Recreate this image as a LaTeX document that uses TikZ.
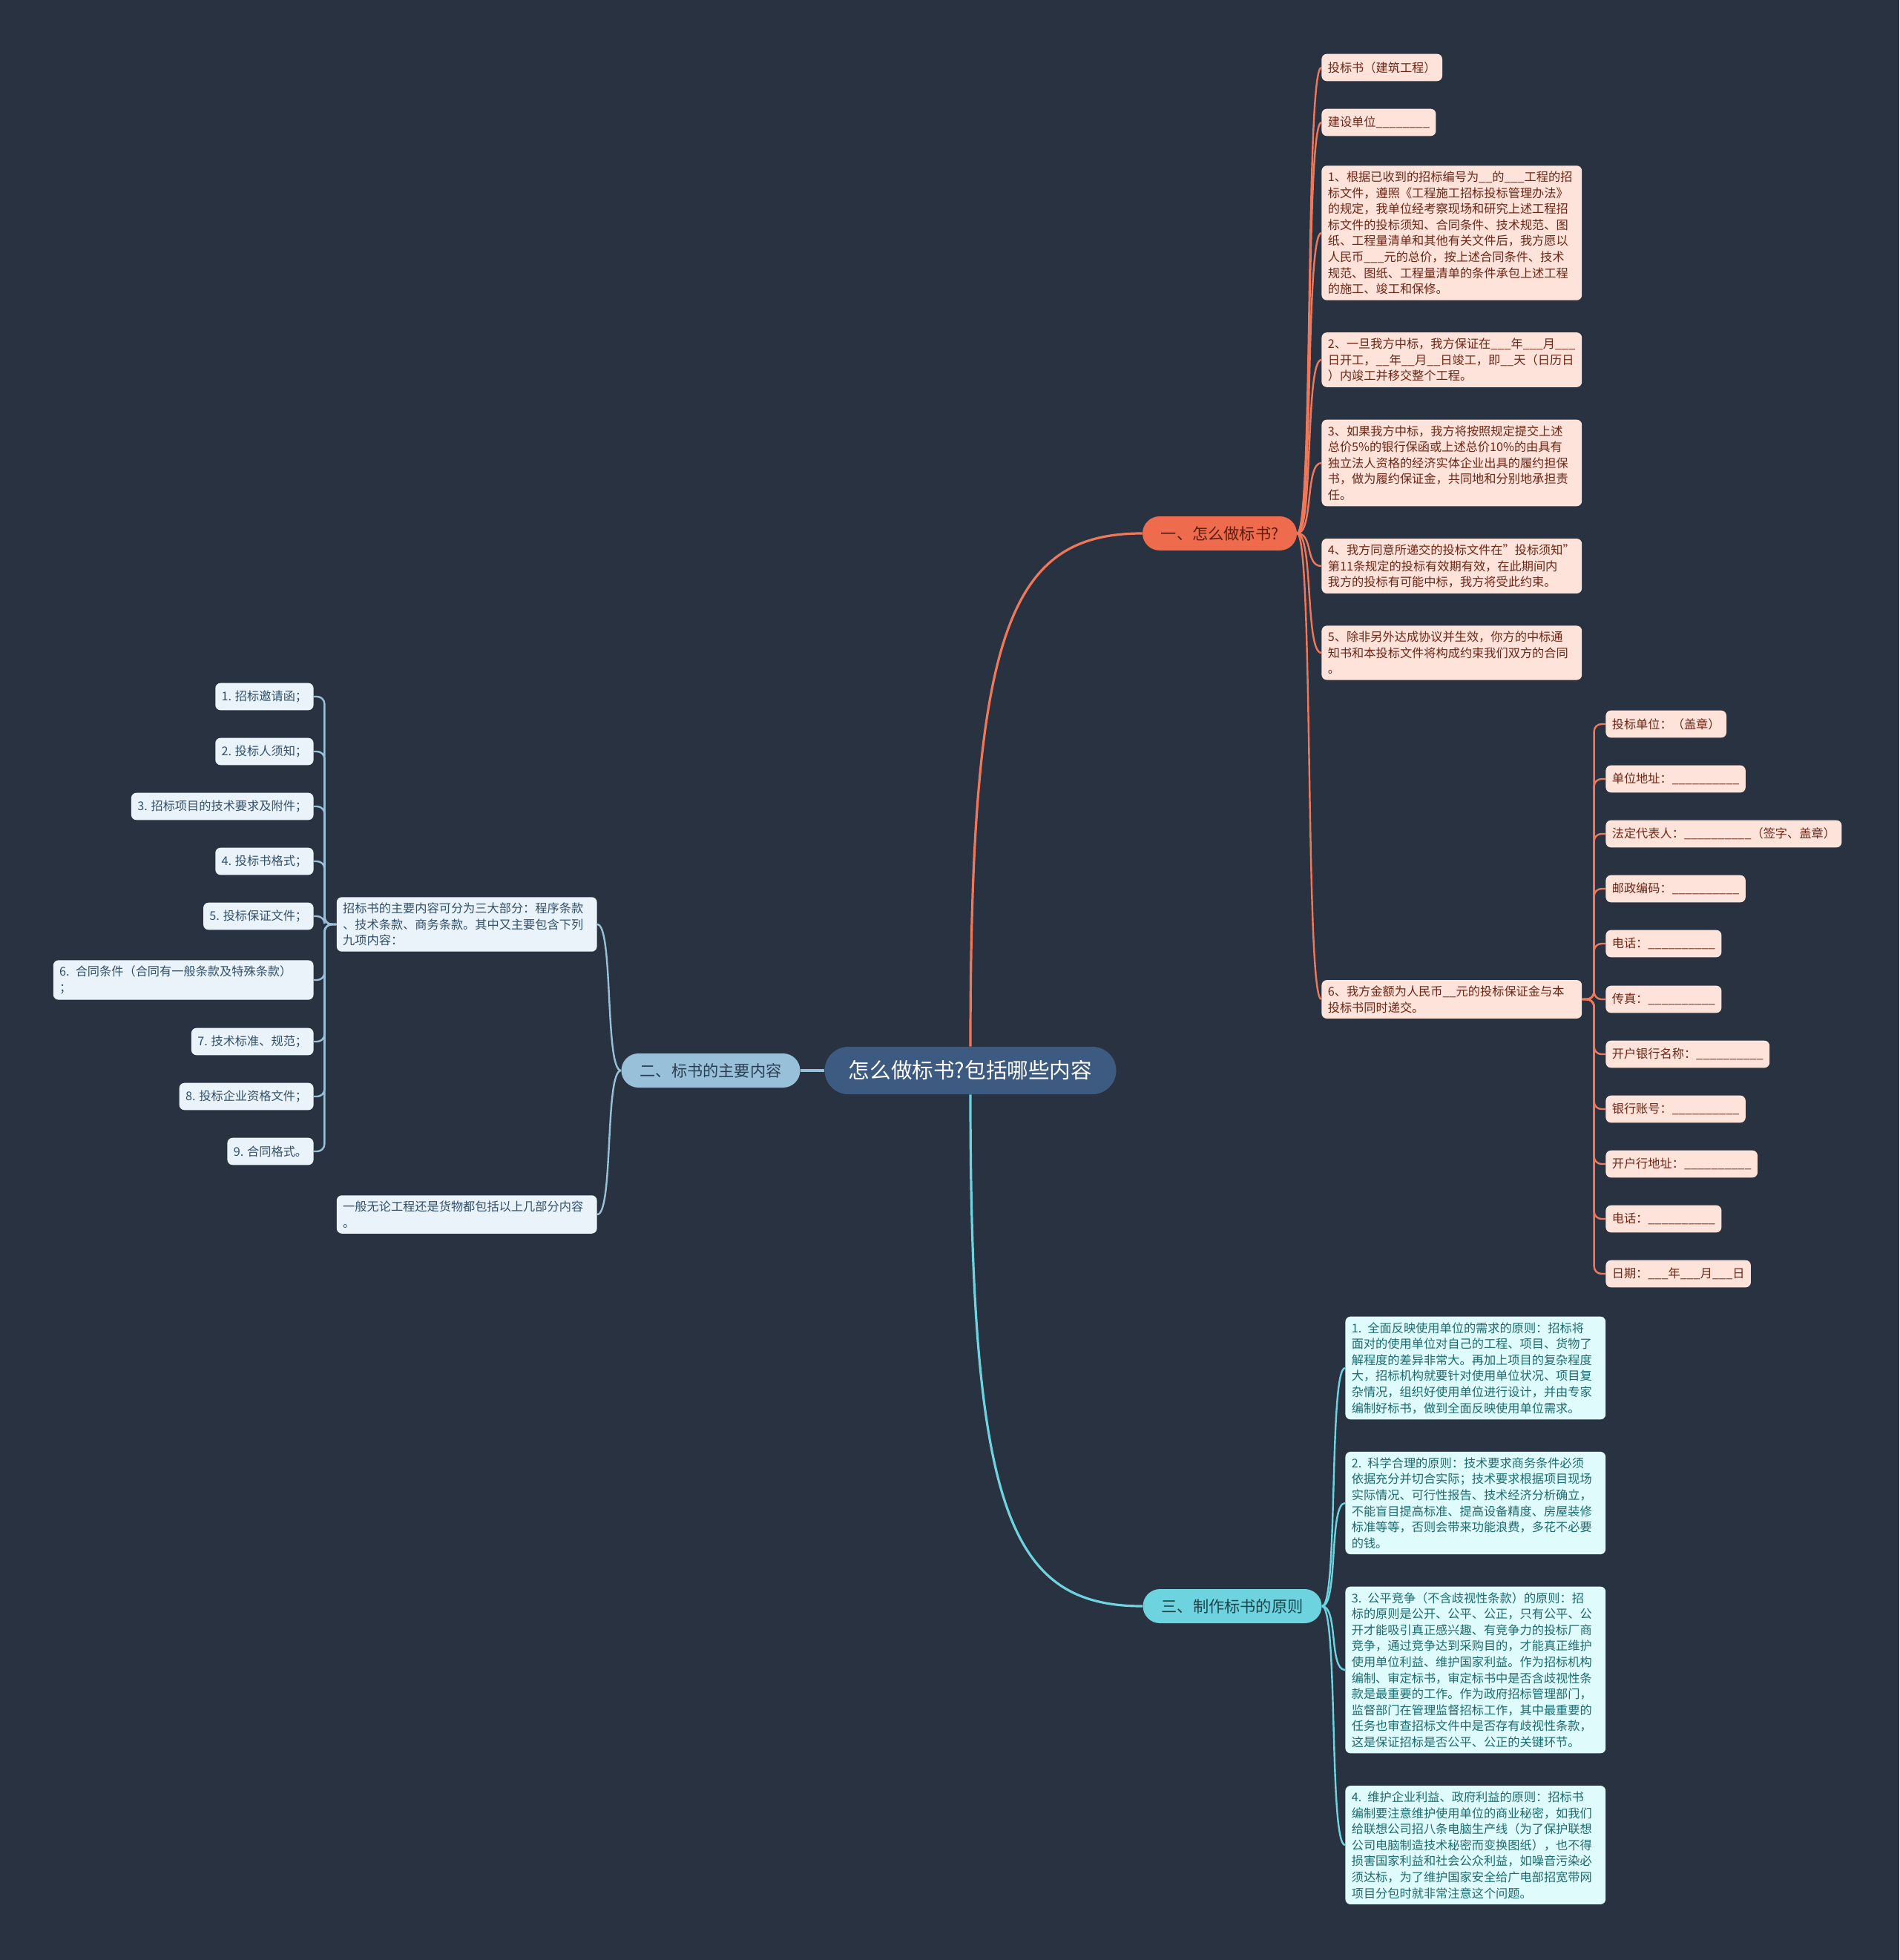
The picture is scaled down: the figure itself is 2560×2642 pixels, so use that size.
\documentclass[tikz,border=0pt]{standalone}
\usepackage{fontspec}
\setmainfont{Noto Sans CJK SC}
\usepackage{xcolor}
\usepackage{tikz}
\usetikzlibrary{backgrounds}

\definecolor{bgcol}{HTML}{293241}
\definecolor{rootcol}{HTML}{3D5A80}
\definecolor{orangecol}{HTML}{EE6C4D}
\definecolor{bluecol}{HTML}{98C1D9}
\definecolor{cyancol}{HTML}{6DD3DF}
\definecolor{orangeleaf}{HTML}{FDE3DA}
\definecolor{blueleaf}{HTML}{E9F3F9}
\definecolor{cyanleaf}{HTML}{E0FBFC}
\definecolor{orangetext}{HTML}{6E2616}
\definecolor{bluetext}{HTML}{33506B}
\definecolor{cyantext}{HTML}{1C6B70}
\definecolor{branchonetext}{HTML}{5B1D0F}
\definecolor{branchtwotext}{HTML}{2B3E52}
\definecolor{branchthreetext}{HTML}{1D4249}

\begin{document}
\begin{tikzpicture}[
  x=0.5pt, y=-0.5pt,
  root/.style={
    fill=rootcol, text=white, rounded corners=16pt,
    minimum width=196.5pt, minimum height=32pt, inner sep=0pt,
    font=\fontsize{14.3}{16}\selectfont
  },
  branch/.style={
    rounded corners=11.5pt, minimum height=23pt, inner sep=0pt,
    font=\fontsize{10.6}{12}\selectfont
  },
  leaf/.style={
    rounded corners=3.5pt, inner xsep=4.2pt, inner ysep=3.8pt,
    minimum height=18.3pt, align=left,
    font=\fontsize{8.1}{10.8}\selectfont
  },
  para/.style={text width=167pt},
  redbox/.style={leaf, fill=orangeleaf, text=orangetext},
  bluebox/.style={leaf, fill=blueleaf, text=bluetext},
  cyanbox/.style={leaf, fill=cyanleaf, text=cyantext},
  redline/.style={draw=orangecol!92!white, line width=1.2pt},
  blueline/.style={draw=bluecol, line width=1.2pt},
  cyanline/.style={draw=cyancol, line width=1.2pt},
  elbow/.style={rounded corners=5pt}
]
\useasboundingbox (0,0) rectangle (2560,2642);

% ---- Root ----
\node[root] (T0) at (1308,1443) {怎么做标书?包括哪些内容};

% ---- Branches ----
\node[branch, fill=orangecol, text=branchonetext, minimum width=104pt]
  (B1) at (1644,719) {一、怎么做标书?};
\node[branch, fill=bluecol, text=branchtwotext, minimum width=120.5pt]
  (B2) at (958,1443) {二、标书的主要内容};
\node[branch, fill=cyancol, text=branchthreetext, minimum width=120.5pt]
  (B3) at (1661,2165) {三、制作标书的原则};

% ---- Branch 1: bid letter ----
\node[redbox, anchor=west] (a1) at (1781,91) {投标书（建筑工程）};
\node[redbox, anchor=west] (a2) at (1781,165) {建设单位\_\_\_\_\_\_\_\_};
\node[redbox, para, anchor=west] (a3) at (1781,314) {%
  1、根据已收到的招标编号为\_\_的\_\_\_工程的招\\
  标文件，遵照《工程施工招标投标管理办法》\\
  的规定，我单位经考察现场和研究上述工程招\\
  标文件的投标须知、合同条件、技术规范、图\\
  纸、工程量清单和其他有关文件后，我方愿以\\
  人民币\_\_\_元的总价，按上述合同条件、技术\\
  规范、图纸、工程量清单的条件承包上述工程\\
  的施工、竣工和保修。};
\node[redbox, para, anchor=west] (a4) at (1781,485) {%
  2、一旦我方中标，我方保证在\_\_\_年\_\_\_月\_\_\_\\
  日开工，\_\_年\_\_月\_\_日竣工，即\_\_天（日历日\\
  ）内竣工并移交整个工程。};
\node[redbox, para, anchor=west] (a5) at (1781,624) {%
  3、如果我方中标，我方将按照规定提交上述\\
  总价5\%的银行保函或上述总价10\%的由具有\\
  独立法人资格的经济实体企业出具的履约担保\\
  书，做为履约保证金，共同地和分别地承担责\\
  任。};
\node[redbox, para, anchor=west] (a6) at (1781,763) {%
  4、我方同意所递交的投标文件在"投标须知"\\
  第11条规定的投标有效期有效，在此期间内\\
  我方的投标有可能中标，我方将受此约束。};
\node[redbox, para, anchor=west] (a7) at (1781,880) {%
  5、除非另外达成协议并生效，你方的中标通\\
  知书和本投标文件将构成约束我们双方的合同\\
  。};
\node[redbox, para, anchor=west] (a8) at (1781,1347) {%
  6、我方金额为人民币\_\_元的投标保证金与本\\
  投标书同时递交。};

% ---- Signature fields under item 6 ----
\node[redbox, anchor=west] (f1) at (2164,976) {投标单位：（盖章）};
\node[redbox, anchor=west] (f2) at (2164,1050) {单位地址：\_\_\_\_\_\_\_\_\_\_};
\node[redbox, anchor=west] (f3) at (2164,1124) {法定代表人：\_\_\_\_\_\_\_\_\_\_（签字、盖章）};
\node[redbox, anchor=west] (f4) at (2164,1198) {邮政编码：\_\_\_\_\_\_\_\_\_\_};
\node[redbox, anchor=west] (f5) at (2164,1272) {电话：\_\_\_\_\_\_\_\_\_\_};
\node[redbox, anchor=west] (f6) at (2164,1347) {传真：\_\_\_\_\_\_\_\_\_\_};
\node[redbox, anchor=west] (f7) at (2164,1421) {开户银行名称：\_\_\_\_\_\_\_\_\_\_};
\node[redbox, anchor=west] (f8) at (2164,1495) {银行账号：\_\_\_\_\_\_\_\_\_\_};
\node[redbox, anchor=west] (f9) at (2164,1569) {开户行地址：\_\_\_\_\_\_\_\_\_\_};
\node[redbox, anchor=west] (f10) at (2164,1643) {电话：\_\_\_\_\_\_\_\_\_\_};
\node[redbox, anchor=west] (f11) at (2164,1717) {日期：\_\_\_年\_\_\_月\_\_\_日};

% ---- Branch 2: main contents ----
\node[bluebox, para, anchor=east] (C21) at (805,1246) {%
  招标书的主要内容可分为三大部分：程序条款\\
  、技术条款、商务条款。其中又主要包含下列\\
  九项内容：};
\node[bluebox, para, anchor=east] (C22) at (805,1637) {%
  一般无论工程还是货物都包括以上几部分内容\\
  。};

% ---- Nine items ----
\node[bluebox, anchor=east] (c1) at (423,939) {1. 招标邀请函；};
\node[bluebox, anchor=east] (c2) at (423,1013) {2. 投标人须知；};
\node[bluebox, anchor=east] (c3) at (423,1087) {3. 招标项目的技术要求及附件；};
\node[bluebox, anchor=east] (c4) at (423,1161) {4. 投标书格式；};
\node[bluebox, anchor=east] (c5) at (423,1235) {5. 投标保证文件；};
\node[bluebox, para, anchor=east] (c6) at (423,1321) {%
  6. 合同条件（合同有一般条款及特殊条款）\\
  ；};
\node[bluebox, anchor=east] (c7) at (423,1404) {7. 技术标准、规范；};
\node[bluebox, anchor=east] (c8) at (423,1478) {8. 投标企业资格文件；};
\node[bluebox, anchor=east] (c9) at (423,1552) {9. 合同格式。};

% ---- Branch 3: principles ----
\node[cyanbox, para, anchor=west] (d1) at (1813,1844) {%
  1. 全面反映使用单位的需求的原则：招标将\\
  面对的使用单位对自己的工程、项目、货物了\\
  解程度的差异非常大。再加上项目的复杂程度\\
  大，招标机构就要针对使用单位状况、项目复\\
  杂情况，组织好使用单位进行设计，并由专家\\
  编制好标书，做到全面反映使用单位需求。};
\node[cyanbox, para, anchor=west] (d2) at (1813,2026) {%
  2. 科学合理的原则：技术要求商务条件必须\\
  依据充分并切合实际；技术要求根据项目现场\\
  实际情况、可行性报告、技术经济分析确立，\\
  不能盲目提高标准、提高设备精度、房屋装修\\
  标准等等，否则会带来功能浪费，多花不必要\\
  的钱。};
\node[cyanbox, para, anchor=west] (d3) at (1813,2251) {%
  3. 公平竞争（不含歧视性条款）的原则：招\\
  标的原则是公开、公平、公正，只有公平、公\\
  开才能吸引真正感兴趣、有竞争力的投标厂商\\
  竞争，通过竞争达到采购目的，才能真正维护\\
  使用单位利益、维护国家利益。作为招标机构\\
  编制、审定标书，审定标书中是否含歧视性条\\
  款是最重要的工作。作为政府招标管理部门，\\
  监督部门在管理监督招标工作，其中最重要的\\
  任务也审查招标文件中是否存有歧视性条款，\\
  这是保证招标是否公平、公正的关键环节。};
\node[cyanbox, para, anchor=west] (d4) at (1813,2487) {%
  4. 维护企业利益、政府利益的原则：招标书\\
  编制要注意维护使用单位的商业秘密，如我们\\
  给联想公司招八条电脑生产线（为了保护联想\\
  公司电脑制造技术秘密而变换图纸），也不得\\
  损害国家利益和社会公众利益，如噪音污染必\\
  须达标，为了维护国家安全给广电部招宽带网\\
  项目分包时就非常注意这个问题。};

\begin{scope}[on background layer]
% ---- Canvas ----
\fill[bgcol] (0,0) rectangle (2560,2642);

% ---- Root to branches ----
\draw[redline, line width=1.6pt]
  (T0.north) .. controls +(0,-560) and +(-180,0) .. (B1.west);
\draw[blueline, line width=1.6pt] (T0.west) -- (B2.east);
\draw[cyanline, line width=1.6pt]
  (T0.south) .. controls +(0,560) and +(-180,0) .. (B3.west);

% ---- Branch 1 links ----
\draw[redline] (B1.east) .. controls +(22,0) and +(-22,0) .. (a1.west);
\draw[redline] (B1.east) .. controls +(22,0) and +(-22,0) .. (a2.west);
\draw[redline] (B1.east) .. controls +(22,0) and +(-22,0) .. (a3.west);
\draw[redline] (B1.east) .. controls +(22,0) and +(-22,0) .. (a4.west);
\draw[redline] (B1.east) .. controls +(22,0) and +(-22,0) .. (a5.west);
\draw[redline] (B1.east) .. controls +(22,0) and +(-22,0) .. (a6.west);
\draw[redline] (B1.east) .. controls +(22,0) and +(-22,0) .. (a7.west);
\draw[redline] (B1.east) .. controls +(22,0) and +(-22,0) .. (a8.west);

\draw[redline, elbow] (a8.east) -- ++(16,0) |- (f1.west);
\draw[redline, elbow] (a8.east) -- ++(16,0) |- (f2.west);
\draw[redline, elbow] (a8.east) -- ++(16,0) |- (f3.west);
\draw[redline, elbow] (a8.east) -- ++(16,0) |- (f4.west);
\draw[redline, elbow] (a8.east) -- ++(16,0) |- (f5.west);
\draw[redline, elbow] (a8.east) -- ++(16,0) |- (f6.west);
\draw[redline, elbow] (a8.east) -- ++(16,0) |- (f7.west);
\draw[redline, elbow] (a8.east) -- ++(16,0) |- (f8.west);
\draw[redline, elbow] (a8.east) -- ++(16,0) |- (f9.west);
\draw[redline, elbow] (a8.east) -- ++(16,0) |- (f10.west);
\draw[redline, elbow] (a8.east) -- ++(16,0) |- (f11.west);

% ---- Branch 2 links ----
\draw[blueline] (B2.west) .. controls +(-22,0) and +(22,0) .. (C21.east);
\draw[blueline] (B2.west) .. controls +(-22,0) and +(22,0) .. (C22.east);

\draw[blueline, elbow] (C21.west) -- ++(-16,0) |- (c1.east);
\draw[blueline, elbow] (C21.west) -- ++(-16,0) |- (c2.east);
\draw[blueline, elbow] (C21.west) -- ++(-16,0) |- (c3.east);
\draw[blueline, elbow] (C21.west) -- ++(-16,0) |- (c4.east);
\draw[blueline, elbow] (C21.west) -- ++(-16,0) |- (c5.east);
\draw[blueline, elbow] (C21.west) -- ++(-16,0) |- (c6.east);
\draw[blueline, elbow] (C21.west) -- ++(-16,0) |- (c7.east);
\draw[blueline, elbow] (C21.west) -- ++(-16,0) |- (c8.east);
\draw[blueline, elbow] (C21.west) -- ++(-16,0) |- (c9.east);

% ---- Branch 3 links ----
\draw[cyanline] (B3.east) .. controls +(22,0) and +(-22,0) .. (d1.west);
\draw[cyanline] (B3.east) .. controls +(22,0) and +(-22,0) .. (d2.west);
\draw[cyanline] (B3.east) .. controls +(22,0) and +(-22,0) .. (d3.west);
\draw[cyanline] (B3.east) .. controls +(22,0) and +(-22,0) .. (d4.west);
\end{scope}

\end{tikzpicture}
\end{document}
